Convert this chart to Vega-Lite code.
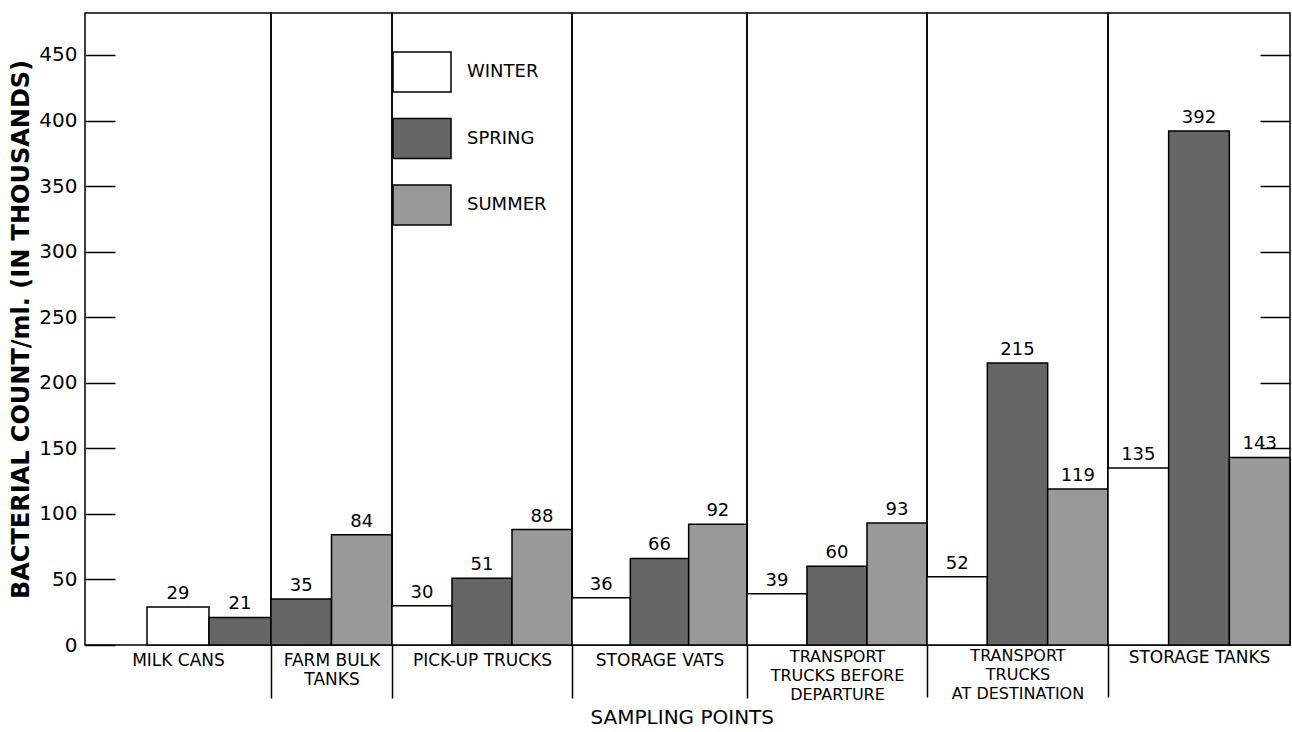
{
  "$schema": "https://vega.github.io/schema/vega-lite/v6.json",
  "background": "white",
  "padding": {"left": 9, "top": 12, "right": 2, "bottom": 2},
  "data": {"values": [
    {"group": "MILK CANS", "season": "WINTER", "value": 29},
    {"group": "MILK CANS", "season": "SPRING", "value": 21},
    {"group": "FARM BULK TANKS", "season": "SPRING", "value": 35},
    {"group": "FARM BULK TANKS", "season": "SUMMER", "value": 84},
    {"group": "PICK-UP TRUCKS", "season": "WINTER", "value": 30},
    {"group": "PICK-UP TRUCKS", "season": "SPRING", "value": 51},
    {"group": "PICK-UP TRUCKS", "season": "SUMMER", "value": 88},
    {"group": "STORAGE VATS", "season": "WINTER", "value": 36},
    {"group": "STORAGE VATS", "season": "SPRING", "value": 66},
    {"group": "STORAGE VATS", "season": "SUMMER", "value": 92},
    {"group": "TRANSPORT TRUCKS BEFORE DEPARTURE", "season": "WINTER", "value": 39},
    {"group": "TRANSPORT TRUCKS BEFORE DEPARTURE", "season": "SPRING", "value": 60},
    {"group": "TRANSPORT TRUCKS BEFORE DEPARTURE", "season": "SUMMER", "value": 93},
    {"group": "TRANSPORT TRUCKS AT DESTINATION", "season": "WINTER", "value": 52},
    {"group": "TRANSPORT TRUCKS AT DESTINATION", "season": "SPRING", "value": 215},
    {"group": "TRANSPORT TRUCKS AT DESTINATION", "season": "SUMMER", "value": 119},
    {"group": "STORAGE TANKS", "season": "WINTER", "value": 135},
    {"group": "STORAGE TANKS", "season": "SPRING", "value": 392},
    {"group": "STORAGE TANKS", "season": "SUMMER", "value": 143}
  ]},
  "title": {"text": "SAMPLING POINTS", "orient": "bottom", "fontSize": 20, "fontWeight": "normal", "font": "DejaVu Sans", "color": "black", "anchor": "middle", "frame": "bounds", "offset": 5, "dx": 32},
  "spacing": 0,
  "bounds": "flush",
  "resolve": {"scale": {"x": "independent", "y": "independent", "color": "shared"}, "legend": {"color": "shared"}},
  "hconcat": [
    {
      "width": 186, "height": 632,
      "transform": [{"filter": "datum.group === 'MILK CANS'"}],
      "encoding": {
        "x": {"field": "season", "type": "nominal", "scale": {"domain": ["-", "WINTER", "SPRING"], "paddingInner": 0, "paddingOuter": 0},
              "axis": {"title": "MILK CANS", "labels": false, "ticks": false, "domain": false, "titleY": 7, "titleBaseline": "top"}},
        "y": {"field": "value", "type": "quantitative", "scale": {"domain": [0, 482], "nice": false},
              "axis": {"orient": "left", "values": [0, 50, 100, 150, 200, 250, 300, 350, 400, 450], "tickSize": -30, "tickWidth": 1.5, "tickColor": "black", "labelPadding": 38, "labelFontSize": 20, "domain": false, "grid": false, "title": "BACTERIAL COUNT/ml. (IN THOUSANDS)", "titleFontSize": 24, "titleFontWeight": "bold", "titlePadding": 5}}
      },
      "layer": [
        {"mark": {"type": "bar", "stroke": "black", "strokeWidth": 1.5},
         "encoding": {"color": {"field": "season", "type": "nominal", "scale": {"domain": ["WINTER", "SPRING", "SUMMER"], "range": ["#ffffff", "#666666", "#999999"]}}}},
        {"mark": {"type": "text", "baseline": "bottom", "dy": -4, "fontSize": 18, "font": "DejaVu Sans", "color": "black"},
         "encoding": {"text": {"field": "value", "type": "quantitative"}}}
      ]
    },
    {
      "width": 121, "height": 632,
      "transform": [{"filter": "datum.group === 'FARM BULK TANKS'"}],
      "encoding": {
        "x": {"field": "season", "type": "nominal", "scale": {"domain": ["SPRING", "SUMMER"], "paddingInner": 0, "paddingOuter": 0},
              "axis": {"title": ["FARM BULK", "TANKS"], "labels": false, "ticks": true, "values": ["SPRING"], "bandPosition": 0, "tickSize": 53, "tickWidth": 1.5, "tickColor": "black", "domain": false, "titleY": 7, "titleBaseline": "top"}},
        "y": {"field": "value", "type": "quantitative", "scale": {"domain": [0, 482], "nice": false}, "axis": null}
      },
      "layer": [
        {"mark": {"type": "bar", "stroke": "black", "strokeWidth": 1.5},
         "encoding": {"color": {"field": "season", "type": "nominal", "scale": {"domain": ["WINTER", "SPRING", "SUMMER"], "range": ["#ffffff", "#666666", "#999999"]}}}},
        {"mark": {"type": "text", "baseline": "bottom", "dy": -4, "fontSize": 18, "font": "DejaVu Sans", "color": "black"},
         "encoding": {"text": {"field": "value", "type": "quantitative"}}}
      ]
    },
    {
      "width": 180, "height": 632,
      "transform": [{"filter": "datum.group === 'PICK-UP TRUCKS'"}],
      "encoding": {
        "x": {"field": "season", "type": "nominal", "scale": {"domain": ["WINTER", "SPRING", "SUMMER"], "paddingInner": 0, "paddingOuter": 0},
              "axis": {"title": "PICK-UP TRUCKS", "labels": false, "ticks": true, "values": ["WINTER"], "bandPosition": 0, "tickSize": 53, "tickWidth": 1.5, "tickColor": "black", "domain": false, "titleY": 7, "titleBaseline": "top"}},
        "y": {"field": "value", "type": "quantitative", "scale": {"domain": [0, 482], "nice": false}, "axis": null}
      },
      "layer": [
        {"mark": {"type": "bar", "stroke": "black", "strokeWidth": 1.5},
         "encoding": {"color": {"field": "season", "type": "nominal", "scale": {"domain": ["WINTER", "SPRING", "SUMMER"], "range": ["#ffffff", "#666666", "#999999"]}}}},
        {"mark": {"type": "text", "baseline": "bottom", "dy": -4, "fontSize": 18, "font": "DejaVu Sans", "color": "black"},
         "encoding": {"text": {"field": "value", "type": "quantitative"}}}
      ]
    },
    {
      "width": 175, "height": 632,
      "transform": [{"filter": "datum.group === 'STORAGE VATS'"}],
      "encoding": {
        "x": {"field": "season", "type": "nominal", "scale": {"domain": ["WINTER", "SPRING", "SUMMER"], "paddingInner": 0, "paddingOuter": 0},
              "axis": {"title": "STORAGE VATS", "labels": false, "ticks": true, "values": ["WINTER"], "bandPosition": 0, "tickSize": 53, "tickWidth": 1.5, "tickColor": "black", "domain": false, "titleY": 7, "titleBaseline": "top"}},
        "y": {"field": "value", "type": "quantitative", "scale": {"domain": [0, 482], "nice": false}, "axis": null}
      },
      "layer": [
        {"mark": {"type": "bar", "stroke": "black", "strokeWidth": 1.5},
         "encoding": {"color": {"field": "season", "type": "nominal", "scale": {"domain": ["WINTER", "SPRING", "SUMMER"], "range": ["#ffffff", "#666666", "#999999"]}}}},
        {"mark": {"type": "text", "baseline": "bottom", "dy": -4, "fontSize": 18, "font": "DejaVu Sans", "color": "black"},
         "encoding": {"text": {"field": "value", "type": "quantitative"}}}
      ]
    },
    {
      "width": 180, "height": 632,
      "transform": [{"filter": "datum.group === 'TRANSPORT TRUCKS BEFORE DEPARTURE'"}],
      "encoding": {
        "x": {"field": "season", "type": "nominal", "scale": {"domain": ["WINTER", "SPRING", "SUMMER"], "paddingInner": 0, "paddingOuter": 0},
              "axis": {"title": ["TRANSPORT", "TRUCKS BEFORE", "DEPARTURE"], "titleFontSize": 16, "labels": false, "ticks": true, "values": ["WINTER"], "bandPosition": 0, "tickSize": 53, "tickWidth": 1.5, "tickColor": "black", "domain": false, "titleY": 3, "titleBaseline": "top"}},
        "y": {"field": "value", "type": "quantitative", "scale": {"domain": [0, 482], "nice": false}, "axis": null}
      },
      "layer": [
        {"mark": {"type": "bar", "stroke": "black", "strokeWidth": 1.5},
         "encoding": {"color": {"field": "season", "type": "nominal", "scale": {"domain": ["WINTER", "SPRING", "SUMMER"], "range": ["#ffffff", "#666666", "#999999"]}}}},
        {"mark": {"type": "text", "baseline": "bottom", "dy": -4, "fontSize": 18, "font": "DejaVu Sans", "color": "black"},
         "encoding": {"text": {"field": "value", "type": "quantitative"}}}
      ]
    },
    {
      "width": 181, "height": 632,
      "transform": [{"filter": "datum.group === 'TRANSPORT TRUCKS AT DESTINATION'"}],
      "encoding": {
        "x": {"field": "season", "type": "nominal", "scale": {"domain": ["WINTER", "SPRING", "SUMMER"], "paddingInner": 0, "paddingOuter": 0},
              "axis": {"title": ["TRANSPORT", "TRUCKS", "AT DESTINATION"], "titleFontSize": 16, "labels": false, "ticks": true, "values": ["WINTER"], "bandPosition": 0, "tickSize": 52, "tickWidth": 1.5, "tickColor": "black", "domain": false, "titleY": 2, "titleBaseline": "top"}},
        "y": {"field": "value", "type": "quantitative", "scale": {"domain": [0, 482], "nice": false}, "axis": null}
      },
      "layer": [
        {"mark": {"type": "bar", "stroke": "black", "strokeWidth": 1.5},
         "encoding": {"color": {"field": "season", "type": "nominal", "scale": {"domain": ["WINTER", "SPRING", "SUMMER"], "range": ["#ffffff", "#666666", "#999999"]}}}},
        {"mark": {"type": "text", "baseline": "bottom", "dy": -4, "fontSize": 18, "font": "DejaVu Sans", "color": "black"},
         "encoding": {"text": {"field": "value", "type": "quantitative"}}}
      ]
    },
    {
      "width": 182, "height": 632,
      "transform": [{"filter": "datum.group === 'STORAGE TANKS'"}],
      "encoding": {
        "x": {"field": "season", "type": "nominal", "scale": {"domain": ["WINTER", "SPRING", "SUMMER"], "paddingInner": 0, "paddingOuter": 0},
              "axis": {"title": "STORAGE TANKS", "labels": false, "ticks": true, "values": ["WINTER"], "bandPosition": 0, "tickSize": 52, "tickWidth": 1.5, "tickColor": "black", "domain": false, "titleY": 4, "titleBaseline": "top"}},
        "y": {"field": "value", "type": "quantitative", "scale": {"domain": [0, 482], "nice": false},
              "axis": {"orient": "right", "values": [50, 100, 150, 200, 250, 300, 350, 400, 450], "labels": false, "tickSize": -30, "tickWidth": 1.5, "tickColor": "black", "domain": false, "grid": false, "title": null}}
      },
      "layer": [
        {"mark": {"type": "bar", "stroke": "black", "strokeWidth": 1.5},
         "encoding": {"color": {"field": "season", "type": "nominal", "scale": {"domain": ["WINTER", "SPRING", "SUMMER"], "range": ["#ffffff", "#666666", "#999999"]}}}},
        {"mark": {"type": "text", "baseline": "bottom", "dy": -4, "fontSize": 18, "font": "DejaVu Sans", "color": "black"},
         "encoding": {"text": {"field": "value", "type": "quantitative"}}}
      ]
    }
  ],
  "config": {
    "font": "DejaVu Sans",
    "view": {"stroke": "black", "strokeWidth": 1.5},
    "axis": {"labelColor": "black", "titleColor": "black", "labelFont": "DejaVu Sans", "titleFont": "DejaVu Sans", "titleFontSize": 17, "titleFontWeight": "normal", "titleLineHeight": 19, "grid": false},
    "legend": {
      "orient": "none", "legendX": 307, "legendY": 29, "title": null, "padding": 0,
      "symbolType": "M-1,-0.69H1V0.69H-1Z", "symbolSize": 3364,
      "symbolStrokeColor": "black", "symbolStrokeWidth": 1.5,
      "labelFontSize": 18, "labelColor": "black", "labelFont": "DejaVu Sans", "labelOffset": 15,
      "rowPadding": 12.5
    }
  }
}
